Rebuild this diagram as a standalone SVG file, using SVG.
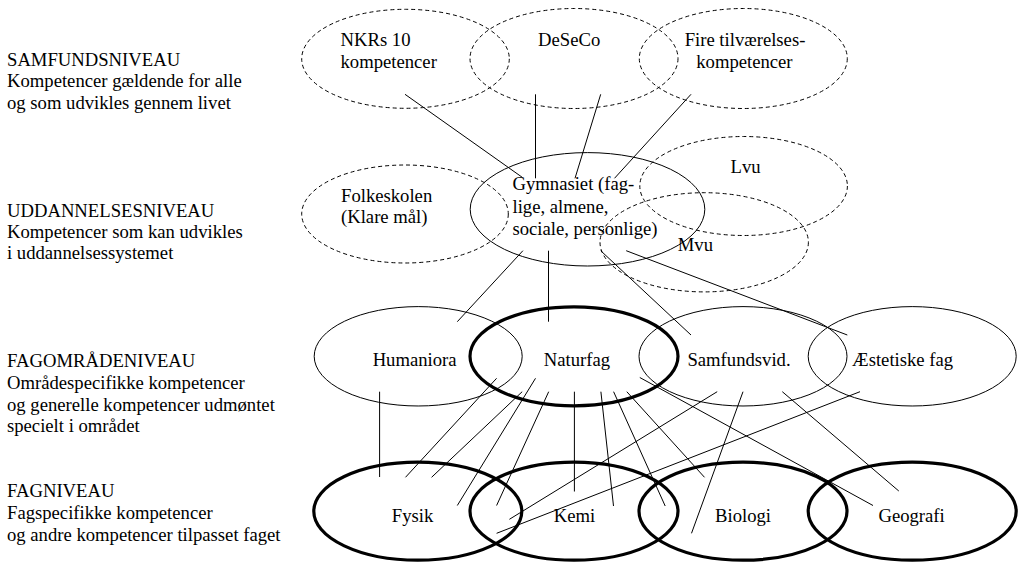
<svg xmlns="http://www.w3.org/2000/svg" width="1021" height="565" viewBox="0 0 1021 565">
<style>
text{font-family:"Liberation Serif","Times New Roman",serif;font-size:18.67px;fill:#000}
.c{text-anchor:middle}
.d{fill:none;stroke:#000;stroke-width:1;stroke-dasharray:4 3}
.s{fill:none;stroke:#000;stroke-width:1}
.t{fill:none;stroke:#000;stroke-width:3.2}
#connectors line{stroke:#000;stroke-width:1}
</style>
<rect width="1021" height="565" fill="#fff"/>
<g id="levels">
<text x="7" y="66">SAMFUNDSNIVEAU</text>
<text x="7" y="87.3">Kompetencer gældende for alle</text>
<text x="7" y="108.5">og som udvikles gennem livet</text>
<text x="7" y="216.7">UDDANNELSESNIVEAU</text>
<text x="7" y="238">Kompetencer som kan udvikles</text>
<text x="7" y="259.3">i uddannelsessystemet</text>
<text x="7" y="367.3">FAGOMRÅDENIVEAU</text>
<text x="7" y="389">Områdespecifikke kompetencer</text>
<text x="7" y="410.5">og generelle kompetencer udmøntet</text>
<text x="7" y="432">specielt i området</text>
<text x="7" y="497">FAGNIVEAU</text>
<text x="7" y="519">Fagspecifikke kompetencer</text>
<text x="7" y="540.5">og andre kompetencer tilpasset faget</text>
</g>
<g id="connectors">
<line x1="405" y1="94.3" x2="522.5" y2="177.5"/>
<line x1="535.5" y1="94.3" x2="535.5" y2="178.3"/>
<line x1="600.7" y1="94.3" x2="575" y2="178.3"/>
<line x1="691" y1="94.3" x2="614.5" y2="178.3"/>
<line x1="522.9" y1="250.7" x2="457.3" y2="321.7"/>
<line x1="548.5" y1="250.7" x2="548.5" y2="321.7"/>
<line x1="600.7" y1="250.7" x2="691" y2="335"/>
<line x1="626.2" y1="250.7" x2="847.3" y2="335"/>
<line x1="379.6" y1="391.7" x2="379.6" y2="477"/>
<line x1="496.6" y1="378.3" x2="405.5" y2="477.3"/>
<line x1="522.2" y1="391.7" x2="431.6" y2="477.3"/>
<line x1="535.5" y1="378.3" x2="457.3" y2="505.5"/>
<line x1="548.7" y1="391.7" x2="496.6" y2="505.5"/>
<line x1="574.4" y1="391.7" x2="574.4" y2="491.5"/>
<line x1="600.9" y1="391.7" x2="613.5" y2="506"/>
<line x1="613.6" y1="391.7" x2="665.2" y2="506"/>
<line x1="626.8" y1="391.7" x2="704.5" y2="477.3"/>
<line x1="639.8" y1="377.5" x2="873" y2="505.5"/>
<line x1="717.2" y1="391.7" x2="509.4" y2="519.3"/>
<line x1="743" y1="391.7" x2="691.5" y2="533.3"/>
<line x1="782.3" y1="391.7" x2="898.8" y2="491"/>
<line x1="860" y1="391.7" x2="496.6" y2="533.3"/>
</g>
<g id="nkrs"><ellipse class="d" cx="405.5" cy="58.8" rx="103.8" ry="49.5"/><text x="340.5" y="46.3">NKRs 10</text><text x="340.5" y="68">kompetencer</text></g>
<g id="deseco"><ellipse class="d" cx="574" cy="58.5" rx="104" ry="50"/><text class="c" x="569.2" y="46.3">DeSeCo</text></g>
<g id="fire"><ellipse class="d" cx="743.3" cy="58.5" rx="104" ry="50"/><text class="c" x="745" y="46.3">Fire tilværelses-</text><text class="c" x="744.4" y="68">kompetencer</text></g>
<g id="folkeskolen"><ellipse class="d" cx="405" cy="214" rx="103.3" ry="49"/><text x="341" y="201.7">Folkeskolen</text><text x="341" y="223">(Klare mål)</text></g>
<g id="gymnasiet"><ellipse class="s" cx="587.5" cy="209.3" rx="117.3" ry="56.7"/><text x="512.5" y="190">Gymnasiet (fag-</text><text x="512.5" y="213.3">lige, almene,</text><text x="512.5" y="235">sociale, personlige)</text></g>
<g id="lvu"><ellipse class="d" cx="743.6" cy="186" rx="103.8" ry="49.5"/><text class="c" x="745.6" y="173.3">Lvu</text></g>
<g id="mvu"><ellipse class="d" cx="704.2" cy="242.3" rx="104.2" ry="49.6"/><text class="c" x="695.4" y="251">Mvu</text></g>
<g id="humaniora"><ellipse class="s" cx="418.2" cy="356.3" rx="104" ry="49.7"/><text class="c" x="414.6" y="366">Humaniora</text></g>
<g id="naturfag"><ellipse class="t" cx="574" cy="356.3" rx="104" ry="49.5"/><text class="c" x="577" y="366">Naturfag</text></g>
<g id="samfundsvid"><ellipse class="s" cx="743" cy="356.3" rx="104" ry="49.7"/><text class="c" x="739" y="366">Samfundsvid.</text></g>
<g id="aestetiske"><ellipse class="s" cx="912.2" cy="356.3" rx="104" ry="49.7"/><text class="c" x="902.6" y="366">Æstetiske fag</text></g>
<g id="fysik"><ellipse class="t" cx="417.8" cy="511.2" rx="104" ry="49"/><text class="c" x="412.6" y="521.7">Fysik</text></g>
<g id="kemi"><ellipse class="t" cx="574" cy="511.2" rx="104" ry="49"/><text class="c" x="574.4" y="521.7">Kemi</text></g>
<g id="biologi"><ellipse class="t" cx="743" cy="511.2" rx="104" ry="49"/><text class="c" x="743" y="521.7">Biologi</text></g>
<g id="geografi"><ellipse class="t" cx="912.2" cy="511.2" rx="104" ry="49"/><text class="c" x="911.6" y="521.7">Geografi</text></g>
</svg>
